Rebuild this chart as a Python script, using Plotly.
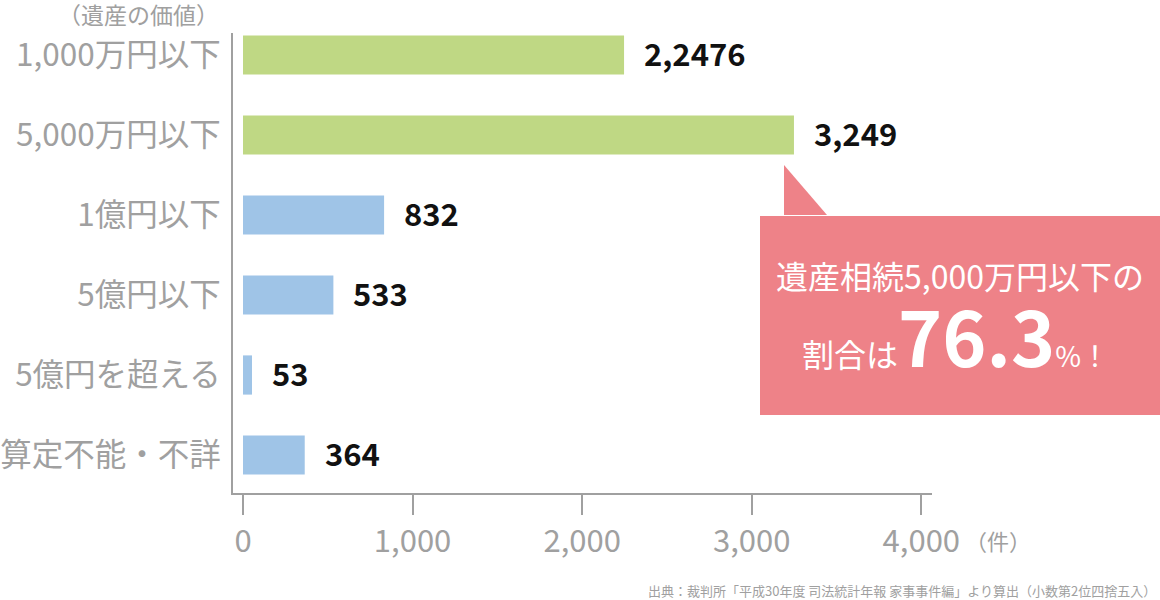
import plotly.graph_objects as go

# --- Data ---
categories = ["1,000万円以下", "5,000万円以下", "1億円以下", "5億円以下", "5億円を超える", "算定不能・不詳"]
counts = [2247, 3249, 832, 533, 53, 364]
count_labels = ["2,2476", "3,249", "832", "533", "53", "364"]
bar_colors = ["#bfd884", "#bfd884", "#9fc4e7", "#9fc4e7", "#9fc4e7", "#9fc4e7"]
tick_vals = [0, 1000, 2000, 3000, 4000]
tick_text = ["0", "1,000", "2,000", "3,000", "4,000"]

FONT = "Noto Sans CJK JP"
GREY = "#a0a0a0"
PINK = "#ee8288"

# plot area in pixels: x 233..932, y 33..493
L, R, T, B = 233, 932, 33, 493


def px(x):
    return (x - L) / (R - L)


def py(y):
    return (B - y) / (B - T)


fig = go.Figure()
fig.add_trace(go.Bar(
    y=categories, x=counts, orientation="h",
    marker=dict(color=bar_colors, line=dict(width=0)),
    width=0.49, hoverinfo="skip",
))

# value labels right of each bar
for cat, val, lab in zip(categories, counts, count_labels):
    fig.add_annotation(x=val, y=cat, text=f"<b>{lab}</b>", showarrow=False,
                       xanchor="left", yanchor="middle", xshift=18, yshift=3,
                       font=dict(family=FONT, size=31, color="#111111"))

# --- callout box ---
fig.add_shape(type="rect", xref="paper", yref="paper",
              x0=px(760), x1=px(1160), y0=py(415), y1=py(216),
              fillcolor=PINK, line=dict(width=0), layer="above")
fig.add_shape(type="path", xref="paper", yref="paper",
              path="M {a},{b} L {a},{c} L {d},{c} Z".format(
                  a=px(784), b=py(165), c=py(215), d=px(827)),
              fillcolor=PINK, line=dict(width=0), layer="above")
fig.add_annotation(xref="paper", yref="paper", x=px(960), y=py(275),
                   xanchor="center", yanchor="middle",
                   text="遺産相続5,000万円以下の", showarrow=False,
                   font=dict(family=FONT, size=32, color="white"))
fig.add_annotation(xref="paper", yref="paper", x=px(955), y=py(334),
                   xanchor="center", yanchor="middle",
                   text='割合は<b><span style="font-size:75px">76.3</span></b>'
                        '<span style="font-size:28px">%！</span>',
                   showarrow=False,
                   font=dict(family=FONT, size=32, color="white"))

# --- extra texts ---
fig.add_annotation(xref="paper", yref="paper", x=px(221), y=py(14),
                   text="（遺産の価値）", showarrow=False, xanchor="right", yanchor="middle",
                   font=dict(family=FONT, size=23, color=GREY))
fig.add_annotation(xref="paper", yref="paper", x=px(963), y=py(540),
                   text="（件）", showarrow=False, xanchor="left", yanchor="middle",
                   font=dict(family=FONT, size=22, color=GREY))
fig.add_annotation(xref="paper", yref="paper", x=px(1158), y=py(590),
                   text="出典：裁判所「平成30年度 司法統計年報 家事事件編」より算出（小数第2位四捨五入）",
                   showarrow=False, xanchor="right", yanchor="middle",
                   font=dict(family=FONT, size=13, color=GREY))

fig.update_layout(
    width=1160, height=600,
    margin=dict(l=L, r=1160 - R, t=T, b=600 - B),
    paper_bgcolor="white", plot_bgcolor="white",
    showlegend=False,
    xaxis=dict(range=[-59, 4063], tickvals=tick_vals, ticktext=tick_text,
               showgrid=False, zeroline=False, automargin=False, fixedrange=True,
               showline=True, linecolor=GREY, linewidth=2,
               ticks="outside", ticklen=20, tickwidth=2, tickcolor=GREY,
               tickfont=dict(family=FONT, size=31, color=GREY)),
    yaxis=dict(range=[5.475, -0.275], showgrid=False, zeroline=False, automargin=False,
               fixedrange=True,
               showline=True, linecolor=GREY, linewidth=2,
               ticks="", ticklabelstandoff=4,
               tickfont=dict(family=FONT, size=31.5, color=GREY)),
)

# page has a default body margin; remove it so the chart sits at 0,0
fig.write_html("out.html", config={"displayModeBar": False},
               post_script="document.body.style.margin='0';")
